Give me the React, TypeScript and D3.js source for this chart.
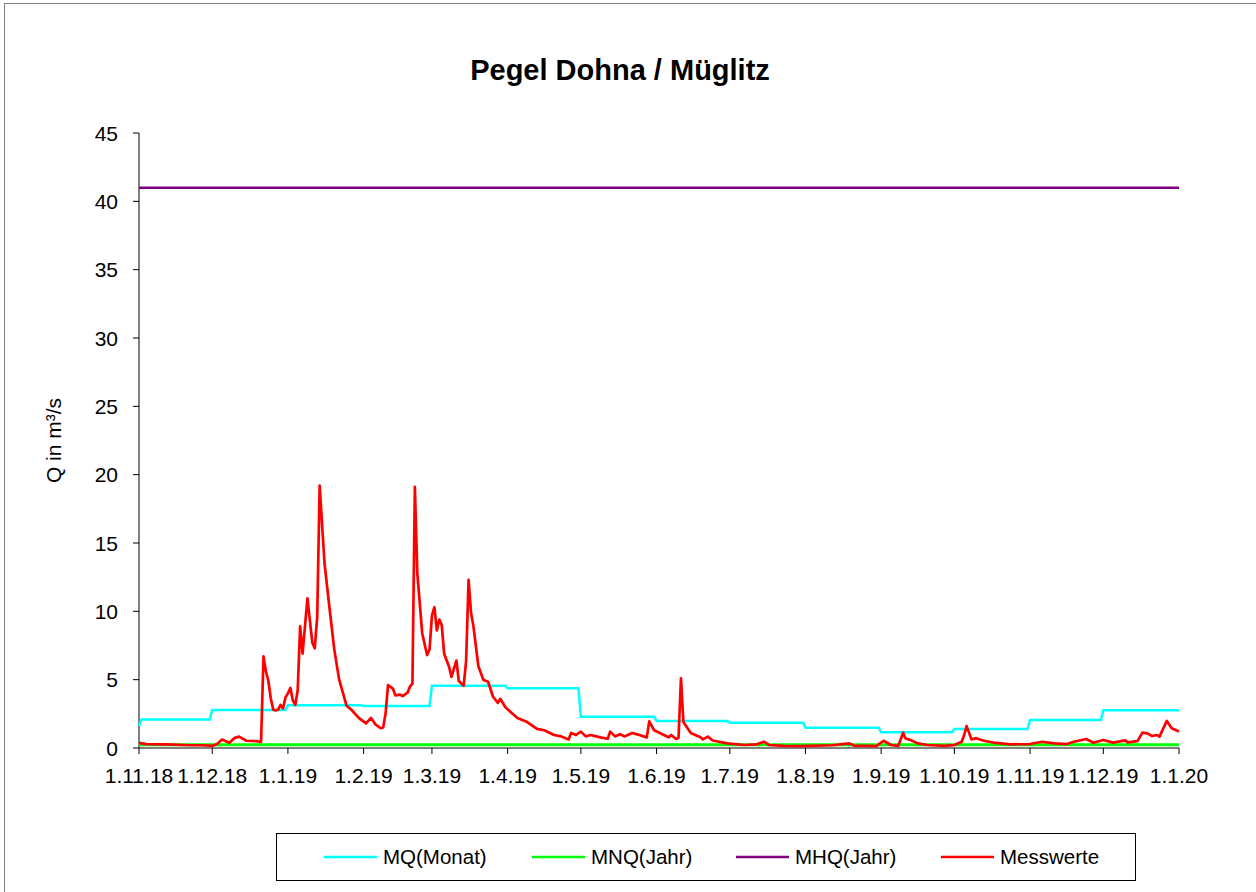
import React from 'react';
import * as d3 from 'd3';

// Pegel Dohna / Müglitz, 1.11.2018 - 1.1.2020
const startDate = new Date(2018, 10, 1);
const endDate = new Date(2020, 0, 1);

const yTicks = [0, 5, 10, 15, 20, 25, 30, 35, 40, 45];

// MQ(Monat), monthly mean flow Nov 2018 .. Dec 2019
const mqMonths = ['2018-11', '2018-12', '2019-01', '2019-02', '2019-03', '2019-04', '2019-05',
    '2019-06', '2019-07', '2019-08', '2019-09', '2019-10', '2019-11', '2019-12'];
const mqValues = [2.08, 2.78, 3.12, 3.08, 4.56, 4.37, 2.29, 1.98, 1.85, 1.49, 1.15, 1.39, 2.05, 2.76];
const mqFirstDay = 1.6;

const mnqValue = 0.24;
const mhqValue = 41.0;

// Messwerte: day offset from 1.11.18 and measured Q
const messDays = [0, 3, 11, 21, 26, 30, 32, 34, 37, 39, 41, 44, 48, 50, 51, 52, 53, 54, 55, 56, 57, 58,
    59, 60, 61, 62, 63, 64, 65, 66, 67, 69, 71, 72, 73, 74, 76, 78, 80, 82, 85, 87, 90, 93, 95, 97,
    99, 100, 101, 102, 104, 105, 107, 108, 110, 111, 112, 113, 114, 116, 118, 119, 120, 121, 122,
    123, 124, 125, 127, 128, 130, 131, 133, 134, 135, 136, 137, 139, 141, 143, 145, 147, 148, 150,
    153, 155, 159, 163, 166, 170, 173, 176, 177, 179, 181, 183, 185, 189, 192, 193, 195, 197, 199,
    202, 204, 208, 209, 211, 215, 217, 218, 220, 221, 222, 223, 226, 230, 231, 233, 235, 241, 248,
    253, 256, 258, 264, 271, 284, 291, 293, 302, 305, 308, 311, 313, 314, 316, 319, 323, 330, 334,
    337, 338, 339, 341, 343, 346, 350, 357, 365, 370, 375, 380, 383, 388, 391, 395, 399, 404, 405,
    409, 411, 413, 415, 417, 418, 421, 423, 426];
const messValues = [0.38, 0.28, 0.27, 0.2, 0.2, 0.15, 0.3, 0.62, 0.38, 0.72, 0.83, 0.53, 0.5, 0.44,
    6.7, 5.6, 4.9, 3.6, 2.8, 2.75, 2.8, 3.15, 2.9, 3.7, 4.0, 4.4, 3.5, 3.15, 4.2, 8.9, 6.9, 10.95,
    7.7, 7.3, 9.6, 19.2, 13.5, 10.3, 7.2, 5.0, 3.1, 2.8, 2.2, 1.8, 2.2, 1.7, 1.45, 1.5, 2.5, 4.6,
    4.35, 3.85, 3.9, 3.8, 4.05, 4.5, 4.7, 19.1, 12.8, 8.4, 6.8, 7.2, 9.7, 10.3, 8.6, 9.4, 9.0, 6.9,
    5.95, 5.2, 6.4, 4.9, 4.55, 6.4, 12.3, 9.9, 8.9, 6.0, 5.0, 4.85, 3.75, 3.3, 3.6, 3.0, 2.5, 2.2,
    1.9, 1.4, 1.3, 0.95, 0.85, 0.63, 1.1, 0.95, 1.2, 0.85, 0.95, 0.78, 0.68, 1.2, 0.85, 1.0, 0.85,
    1.1, 1.0, 0.78, 1.95, 1.3, 0.95, 0.78, 0.95, 0.66, 0.75, 5.1, 1.9, 1.1, 0.78, 0.63, 0.83, 0.55,
    0.34, 0.22, 0.27, 0.46, 0.22, 0.15, 0.14, 0.2, 0.34, 0.17, 0.14, 0.53, 0.22, 0.15, 1.12, 0.7,
    0.59, 0.34, 0.22, 0.15, 0.22, 0.46, 0.95, 1.6, 0.63, 0.72, 0.53, 0.4, 0.27, 0.29, 0.46, 0.34,
    0.29, 0.46, 0.66, 0.39, 0.59, 0.39, 0.56, 0.41, 0.5, 1.12, 1.07, 0.88, 0.95, 0.83, 1.98, 1.44, 1.2];

const legendItems = [
    { label: 'MQ(Monat)', color: '#00ffff' },
    { label: 'MNQ(Jahr)', color: '#00ff00' },
    { label: 'MHQ(Jahr)', color: '#800080' },
    { label: 'Messwerte', color: '#ff0000' }
];

const W = 1256;
const H = 892;
const plot = { left: 139, right: 1179, top: 133, bottom: 748 };
const font = 'Arial, "Liberation Sans", sans-serif';

type Pt = { date: Date; value: number };

export default function App() {
    const x = d3.scaleTime().domain([startDate, endDate]).range([plot.left, plot.right]);
    const y = d3.scaleLinear().domain([0, 45]).range([plot.bottom, plot.top]);
    const line = d3.line<Pt>().x(d => x(d.date)).y(d => y(d.value));

    const parse = d3.timeParse('%Y-%m');
    const mqPts: Pt[] = [{ date: startDate, value: mqFirstDay }];
    mqMonths.forEach((m, i) => {
        const s = parse(m) as Date;
        const next = d3.timeMonth.offset(s, 1);
        mqPts.push({ date: i === 0 ? d3.timeDay.offset(s, 1) : s, value: mqValues[i] });
        const last = i === mqMonths.length - 1 ? next : d3.timeDay.offset(next, -1);
        mqPts.push({ date: last, value: mqValues[i] });
    });

    const messPts: Pt[] = messDays.map((d, i) => ({
        date: d3.timeDay.offset(startDate, d),
        value: messValues[i]
    }));
    const flat = (v: number): Pt[] => [{ date: startDate, value: v }, { date: endDate, value: v }];

    const xTicks = d3.timeMonth.range(startDate, d3.timeDay.offset(endDate, 1));
    const fmt = d3.timeFormat('%-d.%-m.%y');

    const legendX = [324, 532, 736, 941];

    return (
        <svg width={W} height={H} style={{ position: 'absolute', left: 0, top: 0, background: '#fff' }}
            fontFamily={font}>
            <rect x={4.5} y={3.5} width={W + 10} height={H + 10} fill="#fff" stroke="#808080" />
            <text x={620} y={80} textAnchor="middle" fontSize={29} fontWeight="bold">Pegel Dohna / Müglitz</text>

            {/* y axis */}
            <line x1={plot.left} x2={plot.left} y1={plot.top} y2={plot.bottom} stroke="#000" />
            {yTicks.map(t => (
                <g key={t}>
                    <line x1={plot.left - 6} x2={plot.left} y1={y(t)} y2={y(t)} stroke="#000" />
                    <text x={118} y={y(t) + 7.5} textAnchor="end" fontSize={21}>{t}</text>
                </g>
            ))}
            <text transform={`translate(61,${(plot.top + plot.bottom) / 2}) rotate(-90)`} textAnchor="middle"
                fontSize={21}>Q in m³/s</text>

            {/* x axis */}
            <line x1={plot.left} x2={plot.right} y1={plot.bottom} y2={plot.bottom} stroke="#000" />
            {xTicks.map(t => (
                <g key={+t}>
                    <line x1={x(t)} x2={x(t)} y1={plot.bottom} y2={plot.bottom + 6} stroke="#000" />
                    <text x={x(t)} y={783} textAnchor="middle" fontSize={21}>{fmt(t)}</text>
                </g>
            ))}

            <path d={line(flat(mnqValue)) || ''} fill="none" stroke="#00ff00" strokeWidth={3} />
            <path d={line(mqPts) || ''} fill="none" stroke="#00ffff" strokeWidth={2.5} />
            <path d={line(flat(mhqValue)) || ''} fill="none" stroke="#800080" strokeWidth={2.5} />
            <path d={line(messPts) || ''} fill="none" stroke="#ff0000" strokeWidth={2.7} strokeLinejoin="round" />

            {/* legend */}
            <rect x={276.5} y={833.5} width={859} height={47} fill="#fff" stroke="#000" />
            {legendItems.map((it, i) => (
                <g key={it.label}>
                    <line x1={legendX[i]} x2={legendX[i] + 53} y1={857} y2={857} stroke={it.color} strokeWidth={2.5} />
                    <text x={legendX[i] + 59} y={864} fontSize={20.5}>{it.label}</text>
                </g>
            ))}
        </svg>
    );
}
